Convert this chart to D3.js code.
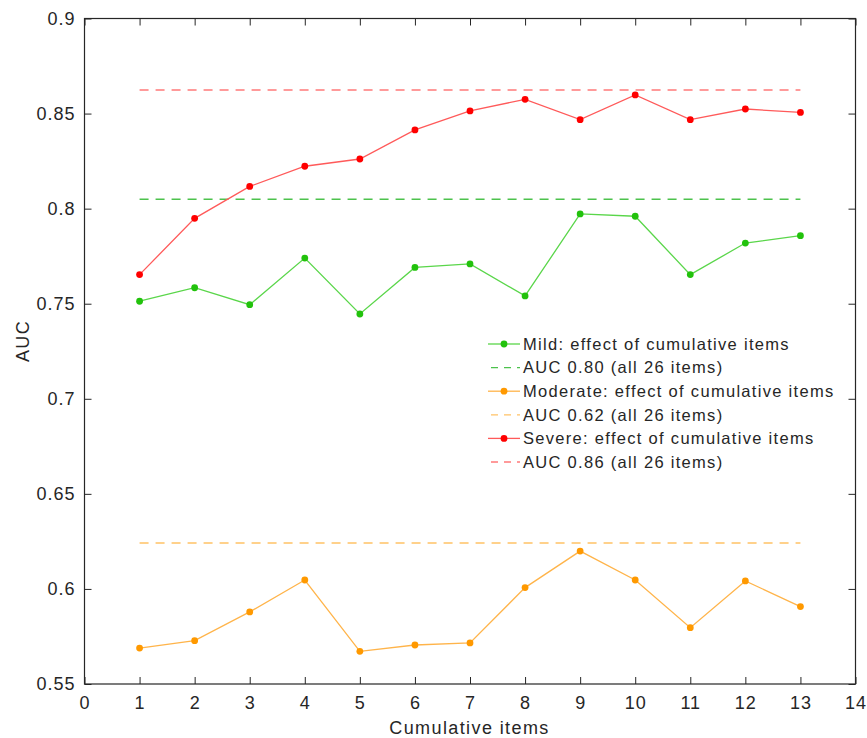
<!DOCTYPE html>
<html>
<head>
<meta charset="utf-8">
<script src="https://cdn.jsdelivr.net/npm/d3@7"></script>
<style>
  body { margin: 0; background: #fff; }
  text { font-family: "Liberation Sans", Arial, Helvetica, sans-serif; fill: #262626; }
</style>
</head>
<body>
<svg id="Graph"></svg>
<script>
const w = 867;
const h = 738;

// data
const items = [1, 2, 3, 4, 5, 6, 7, 8, 9, 10, 11, 12, 13];
const mild = [0.7513, 0.7584, 0.7495, 0.7740, 0.7446, 0.7691, 0.7709, 0.7541, 0.7972, 0.7960, 0.7653, 0.7819, 0.7858];
const moderate = [0.5689, 0.5728, 0.5879, 0.6047, 0.5672, 0.5705, 0.5716, 0.6007, 0.6199, 0.6047, 0.5796, 0.6042, 0.5907];
const severe = [0.7653, 0.7949, 0.8117, 0.8223, 0.8261, 0.8414, 0.8514, 0.8575, 0.8468, 0.8598, 0.8468, 0.8524, 0.8506];
const refAUC = { mild: 0.8049, moderate: 0.6241, severe: 0.8624 };
const xTicks = d3.range(0, 15);
const yTicks = [0.55, 0.6, 0.65, 0.7, 0.75, 0.8, 0.85, 0.9];

const series = [
    { name: "Mild: effect of cumulative items", ref: "AUC 0.80 (all 26 items)", values: mild, auc: refAUC.mild,
      dot: "#22c20c", line: "#5ad64a", dash: "#4cc24c" },
    { name: "Moderate: effect of cumulative items", ref: "AUC 0.62 (all 26 items)", values: moderate, auc: refAUC.moderate,
      dot: "#ff9900", line: "#ffb44a", dash: "#ffc266" },
    { name: "Severe: effect of cumulative items", ref: "AUC 0.86 (all 26 items)", values: severe, auc: refAUC.severe,
      dot: "#ff0000", line: "#ff5a5a", dash: "#ff7a7a" }
];

const padL = 84.5, padR = 855.5, padT = 18.5, padB = 684;

let svg = d3.select("#Graph")
    .attr("width", w)
    .attr("height", h);

const xScale = d3.scaleLinear().domain([0, 14]).range([padL, padR]);
const yScale = d3.scaleLinear().domain([0.55, 0.9]).range([padB, padT]);

// axes (ticks inside, box on)
const tickLen = 7;
function styleAxis(g, labels) {
    g.select(".domain").remove();
    g.selectAll(".tick line").attr("stroke", "#262626");
    g.selectAll(".tick text")
        .attr("font-size", "18px")
        .attr("letter-spacing", "1px")
        .attr("fill", "#262626")
        .style("display", labels ? null : "none");
}
svg.append("g")
    .attr("transform", "translate(0," + padB + ")")
    .call(d3.axisBottom(xScale).tickValues(xTicks).tickSizeInner(-tickLen).tickSizeOuter(0).tickPadding(12))
    .call(g => styleAxis(g, true));
svg.append("g")
    .attr("transform", "translate(0," + padT + ")")
    .call(d3.axisTop(xScale).tickValues(xTicks).tickSizeInner(-tickLen).tickSizeOuter(0))
    .call(g => styleAxis(g, false));
svg.append("g")
    .attr("transform", "translate(" + padL + ",0)")
    .call(d3.axisLeft(yScale).tickValues(yTicks).tickSizeInner(-tickLen).tickSizeOuter(0).tickPadding(9)
        .tickFormat(d => String(+d.toFixed(2))))
    .call(g => styleAxis(g, true));
svg.append("g")
    .attr("transform", "translate(" + padR + ",0)")
    .call(d3.axisRight(yScale).tickValues(yTicks).tickSizeInner(-tickLen).tickSizeOuter(0))
    .call(g => styleAxis(g, false));

svg.append("rect")
    .attr("x", padL).attr("y", padT)
    .attr("width", padR - padL).attr("height", padB - padT)
    .attr("fill", "none")
    .attr("stroke", "#262626")
    .attr("stroke-width", 1.2);

// axis labels
svg.append("text")
    .attr("x", (padL + padR) / 2 - 0.5)
    .attr("y", 734)
    .attr("text-anchor", "middle")
    .attr("font-size", "18px")
    .attr("letter-spacing", "1.4px")
    .text("Cumulative items");
svg.append("text")
    .attr("transform", "translate(29,341) rotate(-90)")
    .attr("text-anchor", "middle")
    .attr("font-size", "18px")
    .attr("letter-spacing", "1.4px")
    .text("AUC");

// lines
const line = d3.line()
    .x((d, i) => xScale(items[i]))
    .y(d => yScale(d));

series.forEach(function (s) {
    svg.append("line")
        .attr("x1", xScale(items[0]))
        .attr("x2", xScale(items[items.length - 1]))
        .attr("y1", yScale(s.auc))
        .attr("y2", yScale(s.auc))
        .attr("stroke", s.dash)
        .attr("stroke-width", 1.5)
        .attr("stroke-dasharray", "9,7");
    svg.append("path")
        .datum(s.values)
        .attr("d", line)
        .attr("fill", "none")
        .attr("stroke", s.line)
        .attr("stroke-width", 1.3);
    svg.selectAll(null)
        .data(s.values)
        .enter()
        .append("circle")
        .attr("cx", (d, i) => xScale(items[i]))
        .attr("cy", d => yScale(d))
        .attr("r", 3.4)
        .attr("fill", s.dot);
});

// legend
const lgX = 488, lgY = 344, lgStep = 23.6;
series.forEach(function (s, k) {
    const y1 = lgY + lgStep * (2 * k);
    const y2 = lgY + lgStep * (2 * k + 1);
    svg.append("line")
        .attr("x1", lgX).attr("x2", lgX + 32)
        .attr("y1", y1).attr("y2", y1)
        .attr("stroke", s.line).attr("stroke-width", 1.3);
    svg.append("circle")
        .attr("cx", lgX + 16).attr("cy", y1).attr("r", 3.4)
        .attr("fill", s.dot);
    svg.append("text")
        .attr("x", lgX + 35).attr("y", y1)
        .attr("dy", "0.35em")
        .attr("font-size", "16.5px")
        .attr("letter-spacing", "1.3px")
        .text(s.name);
    svg.append("line")
        .attr("x1", lgX + 1).attr("x2", lgX + 32)
        .attr("y1", y2).attr("y2", y2)
        .attr("stroke", s.dash).attr("stroke-width", 1.3)
        .attr("stroke-dasharray", "7,6")
        .attr("stroke-dashoffset", -2);
    svg.append("text")
        .attr("x", lgX + 35).attr("y", y2)
        .attr("dy", "0.35em")
        .attr("font-size", "16.5px")
        .attr("letter-spacing", "1.3px")
        .text(s.ref);
});
</script>
</body>
</html>
